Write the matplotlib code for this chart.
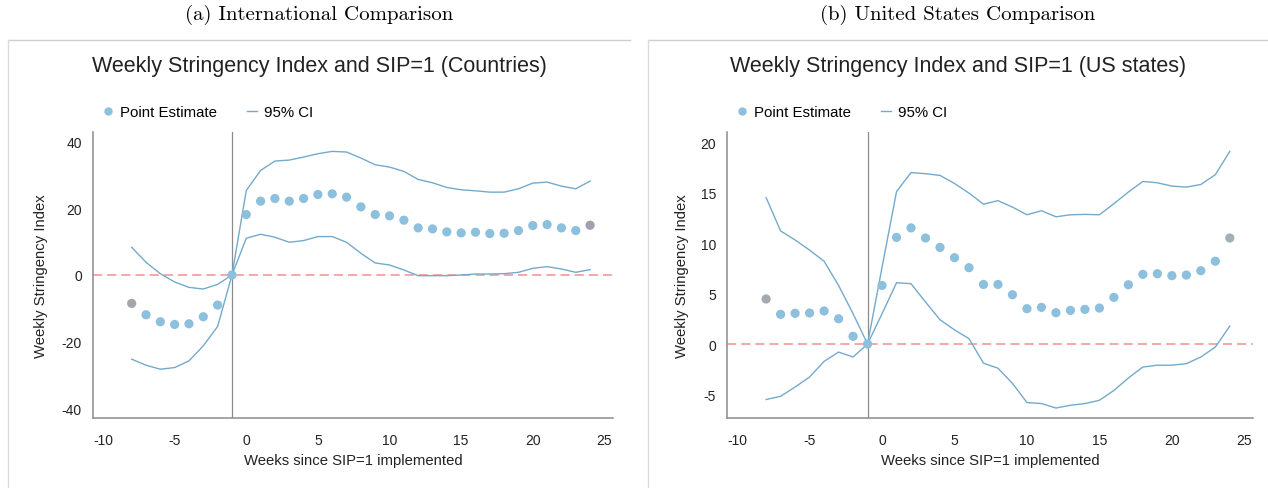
import numpy as np
import matplotlib
matplotlib.use("Agg")
import matplotlib.pyplot as plt
from matplotlib.lines import Line2D

plt.rcParams['font.family'] = ['Liberation Sans', 'DejaVu Sans']
plt.rcParams['axes.unicode_minus'] = False

weeks = np.arange(-8, 25)

# (a) countries
intl_est = [-8.5, -11.9, -14.0, -14.8, -14.6, -12.5, -9.0, 0.0,
            18.1, 22.1, 22.9, 22.1, 22.9, 24.1, 24.3, 23.3, 20.4, 18.1, 17.7, 16.4,
            14.1, 13.8, 12.9, 12.6, 12.8, 12.4, 12.5, 13.3, 14.8, 15.1, 14.1, 13.3, 14.9]
intl_hi = [8.3, 3.8, 0.4, -2.1, -3.7, -4.2, -2.8, 0.0,
           25.3, 31.3, 34.1, 34.4, 35.3, 36.3, 37.0, 36.8, 35.0, 33.0, 32.3, 31.0,
           28.6, 27.6, 26.2, 25.5, 25.2, 24.8, 24.8, 25.8, 27.5, 27.8, 26.6, 25.8, 28.1]
intl_lo = [-25.2, -27.0, -28.2, -27.7, -25.7, -21.2, -15.4, 0.0,
           11.0, 12.2, 11.3, 9.8, 10.3, 11.5, 11.5, 9.8, 6.5, 3.6, 3.0, 1.5,
           -0.2, -0.2, -0.2, 0.0, 0.3, 0.3, 0.4, 0.8, 2.0, 2.5, 1.8, 0.8, 1.6]

# (b) US states
us_est = [4.46, 2.94, 3.04, 3.07, 3.27, 2.5, 0.76, 0.0,
          5.8, 10.56, 11.5, 10.5, 9.57, 8.55, 7.56, 5.9, 5.9, 4.88, 3.5, 3.63,
          3.1, 3.33, 3.43, 3.56, 4.62, 5.87, 6.9, 6.96, 6.77, 6.83, 7.26, 8.2, 10.5]
us_hi = [14.5, 11.2, 10.3, 9.3, 8.2, 5.8, 3.0, 0.0,
         7.6, 15.1, 16.98, 16.87, 16.7, 15.9, 14.95, 13.85, 14.2, 13.56, 12.8, 13.2,
         12.6, 12.8, 12.84, 12.8, 13.9, 15.05, 16.1, 15.97, 15.64, 15.54, 15.8, 16.77, 19.08]
us_lo = [-5.5, -5.18, -4.26, -3.27, -1.72, -0.8, -1.29, 0.0,
         3.0, 6.07, 5.97, 4.16, 2.4, 1.4, 0.53, -1.9, -2.4, -3.9, -5.8, -5.9,
         -6.34, -6.07, -5.9, -5.58, -4.6, -3.37, -2.28, -2.1, -2.1, -1.95, -1.29, -0.3, 1.78]

panels = [
    dict(sub="(a) International Comparison",
         title="Weekly Stringency Index and SIP=1 (Countries)",
         est=intl_est, hi=intl_hi, lo=intl_lo,
         ylim=(-42.8, 42.8), yticks=[-40, -20, 0, 20, 40],
         end_colors=("#a3a6aa", "#a39fae"),
         rect=[93 / 1268, 1 - 419 / 489, 520 / 1268, 286 / 489],
         frame_x=8, frame_r=630, ylab_x=-0.086),
    dict(sub="(b) United States Comparison",
         title="Weekly Stringency Index and SIP=1 (US states)",
         est=us_est, hi=us_hi, lo=us_lo,
         ylim=(-7.33, 21.0), yticks=[-5, 0, 5, 10, 15, 20],
         end_colors=("#a3abb0", "#9fb2bb"),
         rect=[727 / 1268, 1 - 419 / 489, 526 / 1268, 286 / 489],
         frame_x=648, frame_r=1268, ylab_x=-0.072),
]

W, H = 1268, 489
fig = plt.figure(figsize=(W / 100, H / 100), dpi=100)

pt_col = "#8dc0dc"
ci_col = "#74aacb"
grey = "#8c8c8c"

for p in panels:
    cx = (p["frame_x"] + p["frame_r"]) / 2 / W
    fig.text(cx, 1 - 15 / H, p["sub"], ha="center", va="center",
             fontsize=15, family="cmr10")
    # light frame around each panel
    fig.add_artist(Line2D([p["frame_x"] / W, p["frame_r"] / W], [1 - 41 / H, 1 - 41 / H],
                          transform=fig.transFigure, color="#cfcfcf", lw=1.0))
    fig.add_artist(Line2D([p["frame_x"] / W, p["frame_x"] / W], [0, 1 - 41 / H],
                          transform=fig.transFigure, color="#dcdcdc", lw=1.0))
    fig.text(cx, 1 - 67 / H, p["title"], ha="center", va="center", fontsize=15.5,
             color="#222222")

    ax = fig.add_axes(p["rect"])
    ax.set_xlim(-10.7, 25.6)
    ax.set_ylim(*p["ylim"])
    ax.axhline(0, color="#f29a9a", lw=1.2, dashes=(5.5, 3), zorder=1)
    ax.axvline(-1, color=grey, lw=0.9, zorder=1)

    ax.plot(weeks, p["hi"], color=ci_col, lw=1.0, zorder=2)
    ax.plot(weeks, p["lo"], color=ci_col, lw=1.0, zorder=2)
    cols = [pt_col] * len(weeks)
    cols[0], cols[-1] = p["end_colors"]
    ax.scatter(weeks, p["est"], s=44, c=cols, linewidths=0, zorder=3)
    h_pt = Line2D([], [], marker="o", ls="none", color=pt_col, markersize=5)
    h_ci = Line2D([], [], color=ci_col, lw=1.0)
    ax.legend([h_pt, h_ci], ["Point Estimate", "95% CI"], loc="center left",
              bbox_to_anchor=(0.018, 1.07), ncol=2, frameon=False, fontsize=10.8,
              handlelength=0.7, handletextpad=0.45, columnspacing=2.0,
              borderpad=0, borderaxespad=0)

    ax.set_xticks([-10, -5, 0, 5, 10, 15, 20, 25])
    ax.set_yticks(p["yticks"])
    ax.tick_params(length=0, labelsize=10, colors="#222222")
    ax.tick_params(axis="x", pad=11)
    ax.tick_params(axis="y", pad=8)
    for s in ["top", "right"]:
        ax.spines[s].set_visible(False)
    for s in ["left", "bottom"]:
        ax.spines[s].set_color(grey)
        ax.spines[s].set_linewidth(1.1)
    ax.set_xlabel("Weeks since SIP=1 implemented", fontsize=10.7, color="#222222")
    ax.set_ylabel("Weekly Stringency Index", fontsize=10.7, color="#222222")
    ax.xaxis.set_label_coords(0.5, -0.122)
    ax.yaxis.set_label_coords(p["ylab_x"], 0.5)

fig.savefig("out.png", dpi=100)
